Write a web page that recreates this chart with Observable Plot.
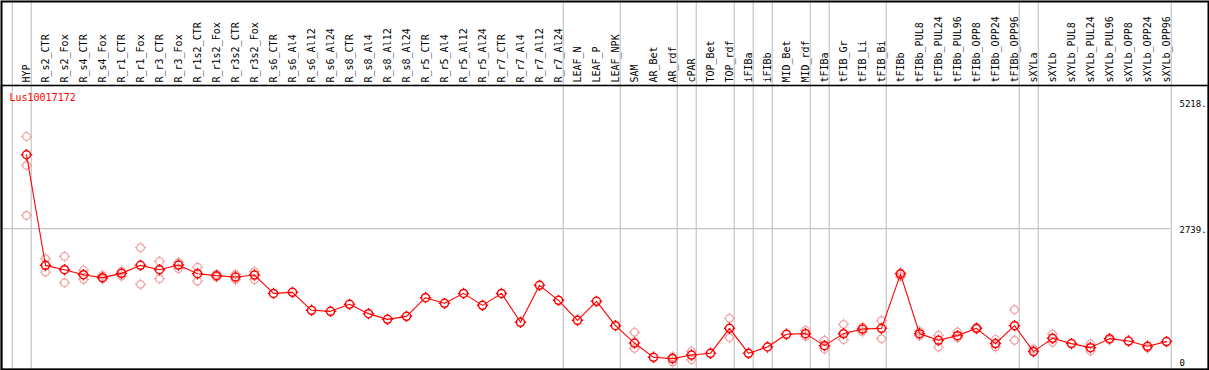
<!DOCTYPE html>
<html>
<head>
<meta charset="utf-8">
<script src="https://cdn.jsdelivr.net/npm/d3@7"></script>
<script src="https://cdn.jsdelivr.net/npm/@observablehq/plot@0.6"></script>
<style>
  html, body { margin: 0; padding: 0; background: #fff; }
  #chart svg { display: block; }
</style>
</head>
<body>
<div id="chart"></div>
<script>
const geneName = "Lus10017172";

const samples = [
  "HYP","R_s2_CTR","R_s2_Fox","R_s4_CTR","R_s4_Fox","R_r1_CTR","R_r1_Fox","R_r3_CTR","R_r3_Fox",
  "R_r1s2_CTR","R_r1s2_Fox","R_r3s2_CTR","R_r3s2_Fox","R_s6_CTR","R_s6_Al4","R_s6_Al12","R_s6_Al24",
  "R_s8_CTR","R_s8_Al4","R_s8_Al12","R_s8_Al24","R_r5_CTR","R_r5_Al4","R_r5_Al12","R_r5_Al24",
  "R_r7_CTR","R_r7_Al4","R_r7_Al12","R_r7_Al24","LEAF_N","LEAF_P","LEAF_NPK","SAM","AR_Bet","AR_rdf",
  "cPAR","TOP_Bet","TOP_rdf","iFIBa","iFIBb","MID_Bet","MID_rdf","tFIBa","tFIB_Gr","tFIB_Li","tFIB_Bi",
  "tFIBb","tFIBb_PUL8","tFIBb_PUL24","tFIBb_PUL96","tFIBb_OPP8","tFIBb_OPP24","tFIBb_OPP96",
  "sXYLa","sXYLb","sXYLb_PUL8","sXYLb_PUL24","sXYLb_PUL96","sXYLb_OPP8","sXYLb_OPP24","sXYLb_OPP96"
];

const means = [
  4188, 2021, 1936, 1838, 1780, 1864, 2021, 1936, 2027,
  1858, 1819, 1792, 1831, 1472, 1492, 1140, 1120,
  1257, 1075, 963, 1022, 1388, 1277, 1472, 1237,
  1472, 905, 1629, 1335, 944, 1316, 840, 499, 219, 194,
  264, 298, 787, 298, 421, 670, 683, 448, 683, 773, 787,
  1850, 683, 552, 644, 787, 488, 840,
  331, 591, 488, 409, 585, 538, 435, 527
];

const replicates = [
  [4546, 3979, 3000], [2152, 1890], [2197, 1682], [1929, 1747], [1825, 1760], [1909, 1811], [2367, 1649], [2099, 1760], [2079, 1956],
  [1987, 1713], [1844, 1792], [1844, 1741], [1897, 1741], [], [], [], [],
  [], [], [], [], [], [], [], [],
  [], [], [], [], [], [], [], [709, 396], [], [127, 230],
  [337, 174], [], [983, 605], [], [], [], [746, 630], [552, 382], [865, 566], [812, 722], [938, 585],
  [1877, 1799], [728, 644], [650, 421], [715, 605], [800, 775], [572, 421], [1153, 552],
  [382], [675, 513], [], [480, 343], [560], [], [400], []
];

// index of the last sample of each group (gray separators drawn after it)
const groupEnds = [-1, 0, 28, 31, 34, 35, 37, 38, 39, 41, 42, 45, 52, 53, 60];

const yTickValues = [5218, 2739];
const yTickLabels = ["5218.", "2739."];
const yZero = [0];
const gridValues = [2739];

const repRows = replicates.flatMap((vals, i) => vals.map(v => ({i, v})));
const meanRows = means.map((v, i) => ({i, v}));

const gear = {
  draw(ctx, size) {
    const r = Math.sqrt(size / Math.PI);
    const s = 1.7;
    ctx.moveTo(r, 0);
    ctx.arc(0, 0, r, 0, 2 * Math.PI);
    ctx.moveTo(0, -r); ctx.lineTo(0, -r - s);
    ctx.moveTo(0, r); ctx.lineTo(0, r + s);
    ctx.moveTo(-r, 0); ctx.lineTo(-r - s, 0);
    ctx.moveTo(r, 0); ctx.lineTo(r + s, 0);
  }
};

const chart = Plot.plot({
  width: 1209,
  height: 370,
  marginTop: 85,
  marginLeft: 1,
  marginRight: 1,
  marginBottom: 1,
  style: {fontFamily: "'DejaVu Sans Mono', monospace", fontSize: "9px", background: "#fff", color: "#000"},
  x: {type: "linear", domain: [0, samples.length - 1], range: [26, 1166], axis: null},
  y: {domain: [0, 5218], range: [368, 101.7], axis: null},
  marks: [
    Plot.ruleX(groupEnds, {x: d => d + 0.25, stroke: "#c4c4c4", strokeWidth: 1.2, insetTop: -85}),
    Plot.ruleY(gridValues, {y: d => d, stroke: "#c4c4c4", strokeWidth: 1.2, insetRight: 38}),
    Plot.frame({stroke: "#000", strokeWidth: 1.6}),
    Plot.frame({stroke: "#000", strokeWidth: 2, insetTop: -84}),
    Plot.dot(repRows, {x: "i", y: "v", r: 3.8, symbol: gear, stroke: "#f0a0a0", strokeWidth: 1.2}),
    Plot.line(meanRows, {x: "i", y: "v", stroke: "#ff0000", strokeWidth: 1.1}),
    Plot.dot(meanRows, {x: "i", y: "v", r: 4, symbol: gear, stroke: "#ff0000", strokeWidth: 1.5}),
    Plot.text(samples, {x: (d, i) => i, text: d => d, frameAnchor: "top", dy: -3, rotate: -90,
      textAnchor: "start", lineAnchor: "middle", fill: "#000", fontSize: 10}),
    Plot.text(yTickValues, {y: d => d, text: (d, i) => yTickLabels[i], frameAnchor: "right", dx: -29, dy: -2,
      textAnchor: "start", lineAnchor: "top", fill: "#000", fontSize: 9}),
    Plot.text(yZero, {y: d => d, text: d => String(d), frameAnchor: "right", dx: -29, dy: -3,
      textAnchor: "start", lineAnchor: "bottom", fill: "#000", fontSize: 9}),
    Plot.text([geneName], {text: d => d, frameAnchor: "top-left", dx: 8, dy: 12,
      textAnchor: "start", lineAnchor: "middle", fill: "#ff0000", fontSize: 10})
  ]
});

document.getElementById("chart").appendChild(chart);
</script>
</body>
</html>
